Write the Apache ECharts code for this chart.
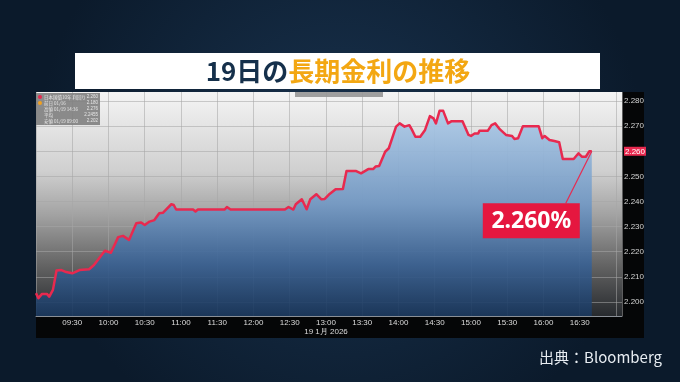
<!DOCTYPE html>
<html><head><meta charset="utf-8">
<script src="https://cdn.jsdelivr.net/npm/echarts@6/dist/echarts.min.js"></script>
<style>html,body{margin:0;padding:0;background:#0f2135;overflow:hidden}#c{width:680px;height:382px}</style>
</head><body><div id="c"></div>
<script>
// ---- data ----
const times = ['09:00','09:02','09:05','09:09','09:11','09:14','09:17','09:21','09:25','09:30','09:36','09:44','09:48','09:57',
'10:02','10:08','10:12','10:17','10:23','10:27','10:30','10:34','10:38','10:42','10:45','10:52','10:54','10:56',
'11:10','11:12','11:14','11:36','11:38','11:41','12:26','12:29','12:33','12:35','12:40','12:44','12:47','12:52','12:56','12:59',
'13:03','13:08','13:14','13:17','13:25','13:29','13:35','13:39','13:41','13:44','13:49','13:52','13:58',
'14:01','14:05','14:09','14:11','14:14','14:18','14:22','14:26','14:29','14:31','14:34','14:37','14:41','14:44','14:53','14:58',
'15:00','15:03','15:06','15:07','15:14','15:17','15:20','15:24','15:29','15:34','15:36','15:39','15:43','15:56','15:59',
'16:01','16:05','16:09','16:13','16:16','16:25','16:29','16:32','16:35','16:38','16:40'];
const yields = [2.2035,2.2015,2.2032,2.2032,2.2021,2.2048,2.2125,2.2127,2.2119,2.2114,2.2127,2.2130,2.2147,2.2204,
2.2196,2.2258,2.2263,2.2247,2.2313,2.2316,2.2306,2.2320,2.2326,2.2353,2.2355,2.2389,2.2386,2.2368,
2.2368,2.2360,2.2368,2.2368,2.2378,2.2368,2.2368,2.2378,2.2368,2.2389,2.2409,2.2369,2.2409,2.2429,2.2409,2.2410,
2.2430,2.2449,2.2450,2.2521,2.2521,2.2512,2.2529,2.2529,2.2539,2.2541,2.2598,2.2612,2.2698,
2.2711,2.2698,2.2704,2.2687,2.2658,2.2658,2.2685,2.2740,2.2731,2.2711,2.2761,2.2761,2.2711,2.2720,2.2720,2.2665,
2.2661,2.2671,2.2671,2.2682,2.2682,2.2704,2.2711,2.2687,2.2665,2.2661,2.2649,2.2652,2.2700,2.2700,2.2652,
2.2661,2.2645,2.2641,2.2636,2.2569,2.2569,2.2592,2.2578,2.2578,2.2600,2.2600];
const yTicks = [2.20,2.21,2.22,2.23,2.24,2.25,2.26,2.27,2.28];
const xTickLabels = ['09:30','10:00','10:30','11:00','11:30','12:00','12:30','13:00','13:30','14:00','14:30','15:00','15:30','16:00','16:30'];
const dateLabel = '19 1月 2026';
const dateUnder = '13:00';
const titleDark = '19日の';
const titleAccent = '長期金利の推移';
const sourceText = '出典：Bloomberg';
const calloutText = '2.260%';
const legendLabels = ['日本国債10年 利回り','前日 01/16','高値 01/19 14:36','平均','安値 01/19 09:00'];
const legendValues = ['2.260','2.180','2.276','2.2455','2.202'];

// ---- build ----
function toMin(t){const p=t.split(':').map(Number);return p[0]*60+p[1];}
function fmt(m){const h=Math.floor(m/60),mm=m%60;return (h<10?'0':'')+h+':'+(mm<10?'0':'')+mm;}
const data = times.map((t,i)=>[toMin(t),yields[i]]);
const lastPt = data[data.length-1];

const chart = echarts.init(document.getElementById('c'),null,{renderer:'canvas'});
const GRID = {left:36,right:58,top:92,bottom:66};
const gridStroke = 'rgba(165,165,165,0.55)';

const option = {
  animation:false,
  backgroundColor:{type:'radial',x:0.5,y:0.42,r:0.8,colorStops:[{offset:0,color:'#19334f'},{offset:1,color:'#0b1a2b'}]},
  grid:{left:GRID.left,right:GRID.right,top:GRID.top,bottom:GRID.bottom,show:true,borderWidth:0,
    backgroundColor:{type:'linear',x:0,y:0,x2:0,y2:1,colorStops:[
      {offset:0,color:'#f4f4f4'},{offset:0.35,color:'#d0d0d0'},{offset:0.55,color:'#a2a2a2'},
      {offset:0.78,color:'#626262'},{offset:1,color:'#272a2e'}]}},
  xAxis:{type:'value',min:540,max:1025,interval:30,
    axisLine:{show:true,lineStyle:{color:'#8a8f96',width:1}},
    axisTick:{show:false},
    axisLabel:{color:'#dcdcdc',fontSize:8,fontFamily:'Liberation Sans',margin:2,lineHeight:9,
      formatter:function(v){const s=fmt(v);if(xTickLabels.indexOf(s)<0)return '';return s===dateUnder?s+'\n'+dateLabel:s;}},
    splitLine:{show:true,lineStyle:{color:gridStroke,width:1}}},
  yAxis:{type:'value',position:'right',min:2.1944,max:2.2836,
    axisLine:{show:false},
    axisTick:{show:false,customValues:yTicks},
    axisLabel:{customValues:yTicks,color:'#d4d4d4',fontSize:8,fontFamily:'Liberation Sans',margin:2,
      formatter:function(v){const s=v.toFixed(3);return Math.abs(v-lastPt[1])<1e-6?'{hl|'+s+'}':s;},
      rich:{hl:{color:'#ffffff',backgroundColor:'#e8294f',fontSize:8,fontFamily:'Liberation Sans',padding:[1,1,0,1]}}},
    splitLine:{show:true,lineStyle:{color:gridStroke,width:1}}},
  series:[{type:'line',data:data,showSymbol:false,symbol:'none',z:3,
    lineStyle:{color:'#e8294f',width:2.5,join:'round'},
    areaStyle:{opacity:0.93,color:{type:'linear',x:0,y:0,x2:0,y2:1,colorStops:[
      {offset:0,color:'#aecbe8'},{offset:0.45,color:'#7399c4'},{offset:0.75,color:'#3a6192'},{offset:1,color:'#1a375c'}]}}}]
};
chart.setOption(option);

// decorations anchored on grid / last data point
const p = chart.convertToPixel({gridIndex:0},lastPt);
const W=680,H=382;
const plotR = W-GRID.right, plotB = H-GRID.bottom;
const g = [];
g.push({type:'rect',z:-5,shape:{x:plotR,y:GRID.top,width:22,height:plotB-GRID.top+22},style:{fill:'#050607'}});
g.push({type:'rect',z:-5,shape:{x:GRID.left,y:plotB,width:plotR-GRID.left+22,height:22},style:{fill:'#050607'}});
g.push({type:'rect',shape:{x:75,y:53,width:525,height:36},style:{fill:'#ffffff'}});
g.push({type:'text',x:338,y:71,style:{text:'{a|'+titleDark+'}{b|'+titleAccent+'}',align:'center',verticalAlign:'middle',
  rich:{a:{fill:'#15304b',fontSize:26,fontWeight:'bold',fontFamily:'Noto Sans CJK JP'},
        b:{fill:'#f3a712',fontSize:26,fontWeight:'bold',fontFamily:'Noto Sans CJK JP'}}}});
g.push({type:'rect',z:5,shape:{x:295,y:92,width:88,height:5},style:{fill:'rgba(150,150,150,0.9)'}});
g.push({type:'rect',z:5,shape:{x:36,y:93,width:64,height:32},style:{fill:'rgba(128,128,128,0.9)'}});
const dotCols=['#e8294f','#f0a020',null,null,null];
legendLabels.forEach((l,i)=>{
  const yy=97+i*6;
  if(dotCols[i]) g.push({type:'circle',z:6,shape:{cx:40,cy:yy,r:2},style:{fill:dotCols[i]}});
  g.push({type:'text',z:6,x:44,y:yy,style:{text:l,fill:'#e6e6e6',fontSize:4.5,fontFamily:'Noto Sans CJK JP',verticalAlign:'middle'}});
  g.push({type:'text',z:6,x:98,y:yy,style:{text:legendValues[i],fill:'#e6e6e6',fontSize:4.5,fontFamily:'Liberation Sans',align:'right',verticalAlign:'middle'}});
});
const boxR = p[0]-12, boxT = p[1]+52;
g.push({type:'line',z:6,shape:{x1:p[0],y1:p[1],x2:p[0]-26,y2:boxT},style:{stroke:'#e8294f',lineWidth:1.2}});
g.push({type:'rect',z:7,shape:{x:boxR-97,y:boxT,width:97,height:35},style:{fill:'#e5173f'}});
g.push({type:'text',z:8,x:boxR-48.5,y:boxT+18,style:{text:calloutText,fill:'#ffffff',fontSize:23,fontWeight:'bold',
  fontFamily:'Noto Sans',align:'center',verticalAlign:'middle'}});
g.push({type:'text',x:662,y:357,style:{text:sourceText,fill:'#e8edf2',fontSize:15,fontFamily:'Noto Sans CJK JP',align:'right',verticalAlign:'middle'}});
chart.setOption({graphic:g});
</script></body></html>
